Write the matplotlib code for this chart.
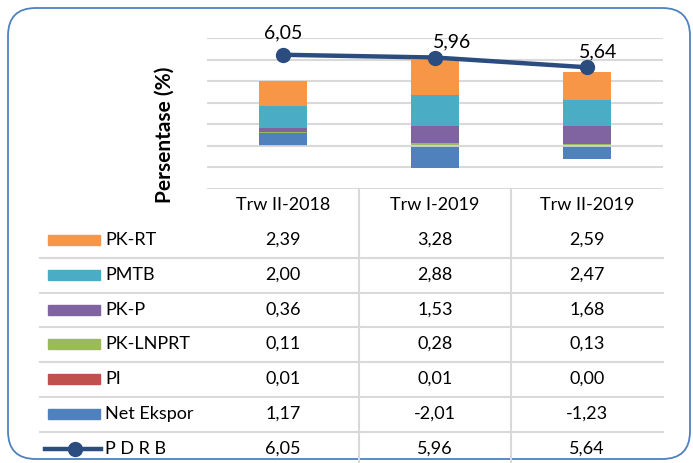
import numpy as np
import matplotlib.pyplot as plt
from matplotlib.patches import FancyBboxPatch, Rectangle
from matplotlib.lines import Line2D
import matplotlib.transforms as mtransforms

plt.rcParams['font.family'] = ['Lato', 'DejaVu Sans']

categories = ['Trw II-2018', 'Trw I-2019', 'Trw II-2019']
# stacking order bottom -> top
series = ['Net Ekspor', 'PI', 'PK-LNPRT', 'PK-P', 'PMTB', 'PK-RT']
values = {
    'PK-RT': [2.39, 3.28, 2.59],
    'PMTB': [2.00, 2.88, 2.47],
    'PK-P': [0.36, 1.53, 1.68],
    'PK-LNPRT': [0.11, 0.28, 0.13],
    'PI': [0.01, 0.01, 0.00],
    'Net Ekspor': [1.17, -2.01, -1.23],
}
pdrb = [6.05, 5.96, 5.64]
table_rows = ['PK-RT', 'PMTB', 'PK-P', 'PK-LNPRT', 'PI', 'Net Ekspor']

colors = {
    'PK-RT': '#F79646',
    'PMTB': '#4BACC6',
    'PK-P': '#8064A2',
    'PK-LNPRT': '#9BBB59',
    'PI': '#C0504D',
    'Net Ekspor': '#4F81BD',
}
line_color = '#2B4C7E'
grid_color = '#D9D9D9'

W, H = 693, 463
fig = plt.figure(figsize=(W / 100, H / 100), dpi=100)

def fx(px):
    return px / W

def fy(py):
    return 1 - py / H

# rounded border
fig.patches.append(FancyBboxPatch((fx(8), fy(459)), fx(682), (451) / H,
                                  boxstyle='round,pad=0,rounding_size=0.04',
                                  transform=fig.transFigure, fill=False,
                                  edgecolor='#4F81BD', linewidth=1.3,
                                  mutation_aspect=W / H))

ax = fig.add_axes([fx(207), fy(189), fx(663) - fx(207), (189 - 38) / H])
x = np.arange(len(categories))

pos_bottom = np.zeros(len(categories))
neg_bottom = np.zeros(len(categories))
for name in series:
    v = np.array(values[name])
    b = np.where(v >= 0, pos_bottom, neg_bottom)
    ax.bar(x, v, width=0.31, bottom=b, color=colors[name], zorder=2)
    pos_bottom += np.where(v >= 0, v, 0)
    neg_bottom += np.where(v < 0, v, 0)

ax.axhline(0, color=grid_color, linewidth=1.2, zorder=3)
ax.set_ylim(-4, 10)
ax.set_yticks(np.arange(-4, 11, 2))
ax.set_xlim(-0.5, len(categories) - 0.5)
ax.grid(axis='y', color=grid_color, linewidth=1.5, zorder=0)
ax.set_axisbelow(True)
for s in ax.spines.values():
    s.set_visible(False)
ax.set_ylabel('Persentase (%)', fontsize=15, fontweight='bold')

ax2 = ax.twinx()
ax2.plot(x, pdrb, color=line_color, linewidth=3.2, marker='o', markersize=10, zorder=5)
ax2.set_ylim(1.65, 6.6)
ax2.set_axis_off()
label_offsets = [(0, 16), (12, 11.5), (8, 11)]
for xi, v, off in zip(x, pdrb, label_offsets):
    ax2.annotate(f'{v:.2f}'.replace('.', ','), (xi, v), xytext=off,
                 textcoords='offset points', ha='center', va='center',
                 fontsize=14)

ax.tick_params(left=False, bottom=False, labelleft=False, labelbottom=False)
ax.yaxis.set_label_coords(-0.072, 0.36)

# data table
tr = mtransforms.blended_transform_factory(ax.transData, fig.transFigure)
fs = 13
for xi, c in zip(x, categories):
    fig.text(xi, fy(205), c, transform=tr, ha='center', va='center', fontsize=fs)

row_y = [240, 275, 310, 344, 379, 414, 449]
for r, name in enumerate(table_rows):
    yy = fy(row_y[r])
    fig.patches.append(Rectangle((fx(48), yy - 5 / H), fx(52), 10 / H,
                                 transform=fig.transFigure, color=colors[name]))
    fig.text(fx(105), yy, name, ha='left', va='center', fontsize=fs)
    for xi, v in zip(x, values[name]):
        fig.text(xi, yy, f'{v:.2f}'.replace('.', ','), transform=tr,
                 ha='center', va='center', fontsize=fs)

yy = fy(row_y[-1])
fig.lines.append(Line2D([fx(45), fx(101)], [yy, yy], transform=fig.transFigure,
                        color=line_color, linewidth=3.2))
fig.lines.append(Line2D([fx(75)], [yy], transform=fig.transFigure, marker='o',
                        markersize=10, color=line_color))
fig.text(fx(105), yy, 'P D R B', ha='left', va='center', fontsize=fs)
for xi, v in zip(x, pdrb):
    fig.text(xi, yy, f'{v:.2f}'.replace('.', ','), transform=tr,
             ha='center', va='center', fontsize=fs)

# table grid lines
for py in [258, 293, 327, 362, 397, 432]:
    fig.lines.append(Line2D([fx(40), fx(663)], [fy(py), fy(py)],
                            transform=fig.transFigure, color=grid_color, linewidth=1.5))
for xb in x[:-1] + 0.5:
    fig.lines.append(Line2D([xb, xb], [fy(189), 0], transform=tr,
                            color=grid_color, linewidth=1.5))

fig.savefig('out.png', dpi=100)
